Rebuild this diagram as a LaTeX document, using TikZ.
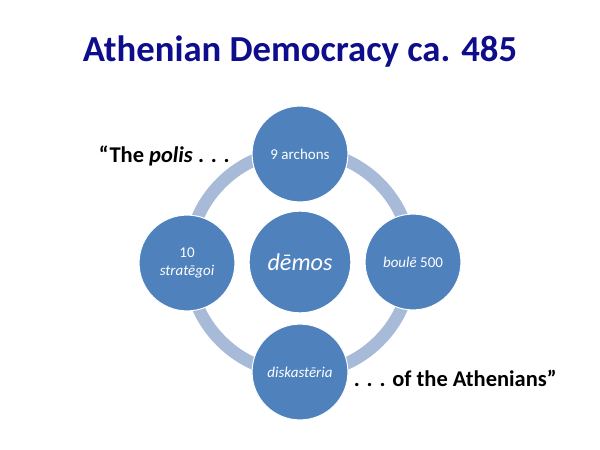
\documentclass[tikz,border=0pt]{standalone}
\usepackage{fontspec}
\setmainfont{Carlito}
\definecolor{titleblue}{RGB}{14,14,140}
\definecolor{seatblue}{RGB}{79,129,189}
\definecolor{ringgrey}{RGB}{167,186,216}

\begin{document}
\begin{tikzpicture}[x=1.2pt,y=-1.2pt,
  seat/.style={circle,draw=white,line width=1.2pt,fill=seatblue,text=white,
    minimum size=115pt,inner sep=0pt,align=center,font=\fontsize{18}{21}\selectfont},
  ring/.style={draw=ringgrey,line width=15pt},
  quote/.style={anchor=west,font=\fontsize{27}{30}\selectfont\bfseries}]
          \fill[white] (0,0) rectangle (600,450);
          \node[font=\fontsize{44}{50}\selectfont\bfseries,text=titleblue] (title) at (300,52) {Athenian Democracy ca. 485};
          \coordinate (hub) at (300,262);
          \draw[ring] (hub) circle[radius=134pt];
          \node[seat,minimum size=122pt,font=\fontsize{29}{32}\selectfont\itshape] (demos) at (hub) {dēmos};
          \node[seat] (archons) at (300,154) {9 archons};
          \node[seat] (boule) at (413,262) {\textit{boulē} 500};
          \node[seat] (dikast) at (300,372) {\textit{diskastēria}};
          \node[seat] (strat) at (187,263) {10\\\textit{stratēgoi}};
          \node[quote] (polis) at (96,156) {“The \textit{polis} . . .};
          \node[quote] (athen) at (351,378) {. . . of the Athenians”};
        \end{tikzpicture}
\end{document}
